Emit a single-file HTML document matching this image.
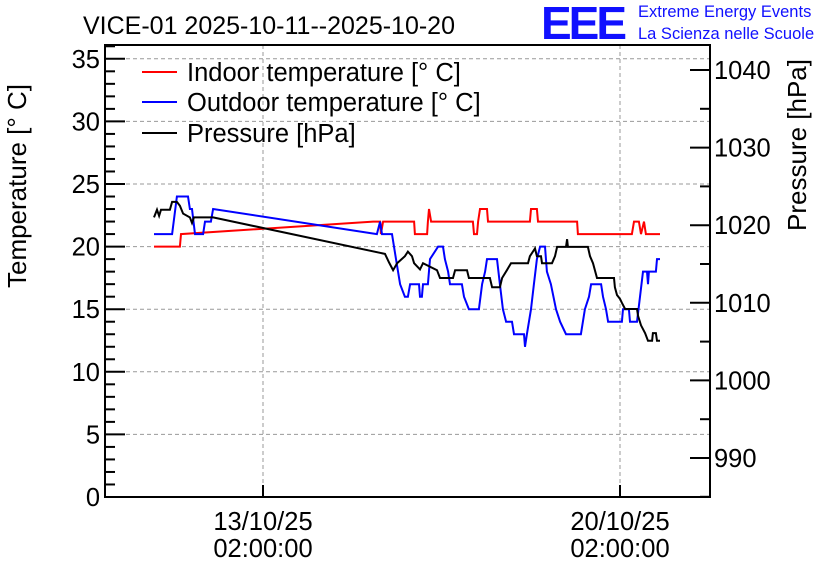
<!DOCTYPE html>
<html><head><meta charset="utf-8"><style>
html,body{margin:0;padding:0;background:#fff;}
svg{display:block;font-family:"Liberation Sans",sans-serif;}
</style></head><body>
<svg id="chart" width="836" height="572" viewBox="0 0 836 572">
<rect x="0" y="0" width="836" height="572" fill="#fff"/>
<g id="grid"></g>
<g id="series"></g>
<g id="axes"></g>
<text x="83" y="34" font-size="25" fill="#000">VICE-01 2025-10-11--2025-10-20</text>
<text x="541" y="39" font-size="46" fill="#1010ff" font-weight="bold" letter-spacing="-3">EEE</text>
<text x="638" y="17" font-size="16.5" fill="#1010ff">Extreme Energy Events</text>
<text x="638" y="39" font-size="16.5" fill="#1010ff">La Scienza nelle Scuole</text>
<text transform="translate(26,186) rotate(-90)" text-anchor="middle" font-size="26">Temperature [° C]</text>
<text transform="translate(806,145) rotate(-90)" text-anchor="middle" font-size="26">Pressure [hPa]</text>
<g>
<line x1="142" y1="72" x2="177" y2="72" stroke="#f00" stroke-width="2"/>
<text x="187" y="81" font-size="25.5">Indoor temperature [° C]</text>
<line x1="142" y1="102" x2="177" y2="102" stroke="#00f" stroke-width="2"/>
<text x="187" y="111" font-size="25.5">Outdoor temperature [° C]</text>
<line x1="142" y1="133" x2="177" y2="133" stroke="#000" stroke-width="2"/>
<text x="187" y="142" font-size="25.5">Pressure [hPa]</text>
</g>
</svg>
<script>
// hours relative to 13/10/25 02:00:00
const indoorT = [-51.3,-39.1,-38.6,51.8,55.1,55.5,56.5,71.1,71.5,77.2,77.6,78.1,79.1,98.8,99.3,100.7,101.2,102.1,105.4,105.9,125.6,126.1,128.9,129.4,147.8,148.2,173.6,174.6,176.9,177.9,179.3,180.2,186.8];
const indoorV = [20,20,21,22,22,21,22,22,21,21,22,23,22,22,21,21,22,23,23,22,22,23,23,22,22,21,21,22,22,21,22,21,21];
const outdoorT = [-51.3,-42.8,-40.5,-35.3,-34.4,-33.4,-32.0,-28.2,-27.3,-24.5,-23.5,53.6,55.1,56.0,60.7,62.6,64.5,66.8,68.2,69.2,73.4,73.9,74.8,75.3,77.6,78.6,82.4,84.7,85.6,87.1,88.0,93.6,94.6,96.9,101.6,103.1,104.5,105.4,110.1,111.5,112.9,114.4,117.2,118.1,122.8,123.3,124.2,126.1,127.5,128.9,130.4,132.7,133.6,135.5,137.9,139.8,142.6,149.6,151.5,153.4,154.4,159.1,160.0,161.4,162.4,168.9,169.4,172.2,172.7,176.0,177.4,178.8,180.7,181.2,181.6,184.9,185.4,186.8];
const outdoorV = [21,21,24,24,23,23,21,21,22,22,23,21,22,21,21,19,17,16,16,17,17,16,16,17,17,19,20,20,19,18,17,17,16,15,15,17,18,19,19,17,15,14,14,13,13,12,13,15,17,19,20,20,18,17,15,14,13,13,15,16,17,17,16,15,14,14,15,15,14,14,16,18,18,17,18,18,19,19];
const pressT = [-51.3,-49.9,-48.9,-48.0,-43.8,-42.8,-40.5,-39.1,-37.6,-34.4,-33.4,-32.5,-23.5,57.4,59.3,61.2,63.1,66.8,68.2,70.1,71.1,73.9,75.3,81.9,83.3,89.4,90.4,96.0,96.9,106.8,107.8,111.5,112.5,114.8,116.7,124.7,125.6,128.0,128.9,130.8,131.3,136.0,137.4,138.4,142.6,143.1,143.5,152.9,153.9,155.3,157.2,165.2,165.6,166.6,168.0,168.9,170.4,176.0,176.5,177.9,179.8,181.2,183.1,183.5,184.9,185.4,186.8];
const pressV = [1021,1022,1021.2,1022,1022,1023,1023,1022.5,1021.5,1021,1020.3,1021,1021,1016.3,1015.2,1014.2,1015.1,1016,1016.6,1016,1015.1,1014.3,1015.1,1014.2,1013.2,1013.2,1014.2,1014.2,1013.2,1013.2,1012,1012,1013.2,1014.2,1015.1,1015.1,1016,1017,1016,1016,1015.1,1015.1,1016,1017.2,1017.2,1018.2,1017.2,1017.2,1016,1015.1,1013.2,1013.2,1012,1011,1010.5,1010,1009.2,1009.2,1008.3,1007.1,1006.1,1005.1,1005.1,1006.1,1006.1,1005.1,1005.1];
const tempTicks = [0,5,10,15,20,25,30,35];
const pressTicks = [990,1000,1010,1020,1030,1040];
const timeTicks = [0,168];
const timeLabels = [["13/10/25","02:00:00"],["20/10/25","02:00:00"]];

const L=105,R=710,T=45,B=497;
const NS="http://www.w3.org/2000/svg";
const X=h=>263+h*(357/168);
const YT=v=>497-v*(438.2/35);
const YP=p=>458-(p-990)*7.76;
function mk(tag,attrs,parent){const e=document.createElementNS(NS,tag);for(const k in attrs)e.setAttribute(k,attrs[k]);parent.appendChild(e);return e;}
const grid=document.getElementById('grid'),axes=document.getElementById('axes'),series=document.getElementById('series');

tempTicks.forEach(v=>{const y=YT(v);
 if(v>0){const g=mk('line',{x1:L,x2:R,y1:y,y2:y,stroke:'#999','stroke-dasharray':'4,3','stroke-width':1},grid);
 
 }
 const t=mk('line',{x1:L,x2:L+20,y1:y,y2:y,stroke:'#000','stroke-width':2},axes);
 
 
 const lb=mk('text',{x:L-5,y:y+9,'text-anchor':'end','font-size':25.5},axes);lb.textContent=v;
 
 
});
for(let v=0;v<=36;v++){if(v%5===0)continue;const y=YT(v);
 const t=mk('line',{x1:L,x2:L+10,y1:y,y2:y,stroke:'#000','stroke-width':2},axes);
 
 }
pressTicks.forEach(p=>{const y=YP(p);
 const t=mk('line',{x1:R-20,x2:R,y1:y,y2:y,stroke:'#000','stroke-width':2},axes);
 
 
 const lb=mk('text',{x:R+4,y:y+9,'font-size':25.5},axes);lb.textContent=p;
 
 
 if(p+5<=1043){const y2=YP(p+5);const m=mk('line',{x1:R-10,x2:R,y1:y2,y2:y2,stroke:'#000','stroke-width':2},axes);
 
 }
});
{const y2=YP(985);const m=mk('line',{x1:R-10,x2:R,y1:y2,y2:y2,stroke:'#000','stroke-width':2},axes);
 
 }
timeTicks.forEach((h,i)=>{const x=X(h);
 const g=mk('line',{x1:x,x2:x,y1:T,y2:B,stroke:'#999','stroke-dasharray':'4,3','stroke-width':1},grid);
 
 
 const t=mk('line',{x1:x,x2:x,y1:B-12,y2:B,stroke:'#000','stroke-width':2},axes);
 
 
 const lb=mk('text',{x:x,y:530,'text-anchor':'middle','font-size':25.5},axes);lb.textContent=timeLabels[i][0];
 
 
 const lb2=mk('text',{x:x,y:557,'text-anchor':'middle','font-size':25.5},axes);lb2.textContent=timeLabels[i][1];
 
 
});
const fr=mk('rect',{x:L,y:T,width:R-L,height:B-T,fill:'none',stroke:'#000','stroke-width':2},axes);



function line(ts,vs,yf,color,name){
 const pts=ts.map((t,i)=>X(t).toFixed(1)+','+yf(vs[i]).toFixed(1)).join(' ');
 const pl=mk('polyline',{points:pts,fill:'none',stroke:color,'stroke-width':2,'stroke-linejoin':'miter'},series);
 
 
}
line(indoorT,indoorV,YT,'#f00','indoor-temperature-line');
line(outdoorT,outdoorV,YT,'#00f','outdoor-temperature-line');
line(pressT,pressV,YP,'#000','pressure-line');
</script>
</body></html>
